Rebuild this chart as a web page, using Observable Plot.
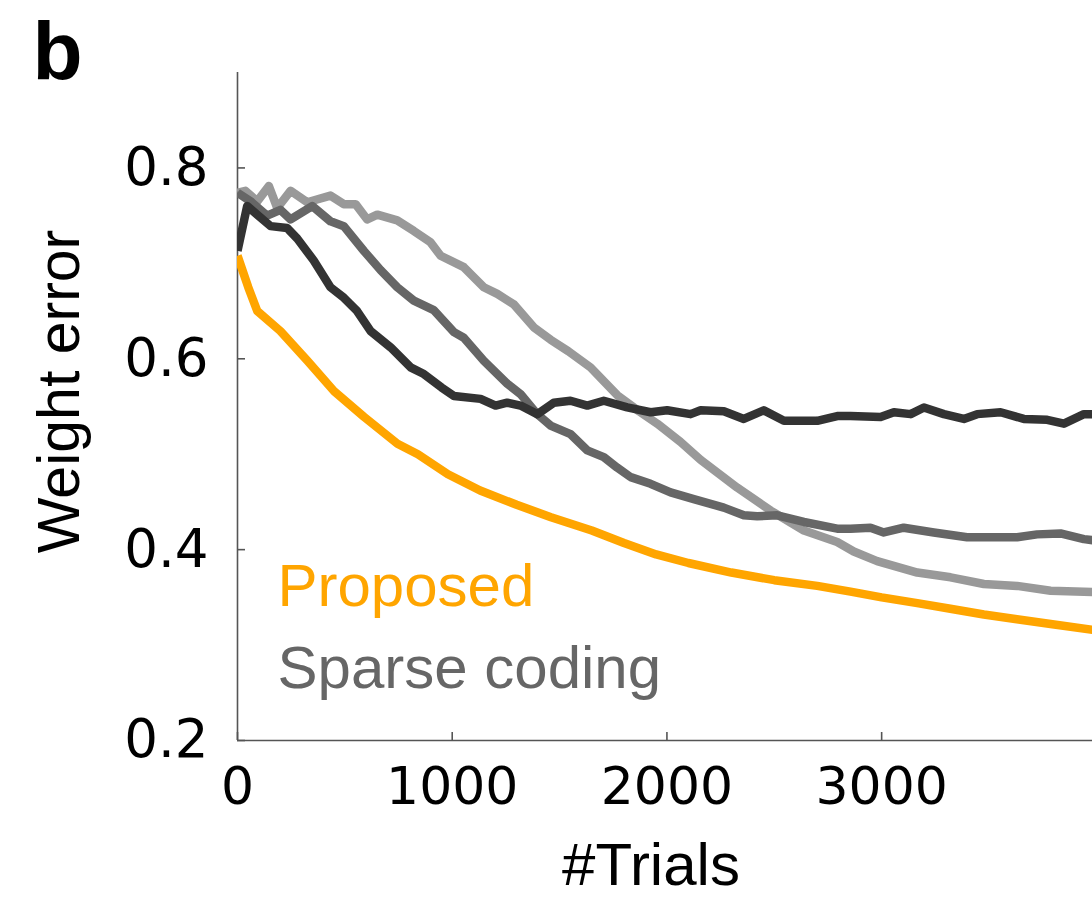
<!DOCTYPE html>
<html>
<head>
<meta charset="utf-8">
<script src="https://cdn.jsdelivr.net/npm/d3@7"></script>
<script src="https://cdn.jsdelivr.net/npm/@observablehq/plot@0.6"></script>
<style>
  html, body { margin: 0; padding: 0; background: #fff; overflow: hidden; }
  svg { display: block; }
</style>
</head>
<body>
<div id="chart"></div>
<script>
// ---- Data ----
const xTicks = [0, 1000, 2000, 3000];
const yTicks = [0.2, 0.4, 0.6, 0.8];

const proposedTrials = [0, 50, 92, 200, 325, 450, 590, 745, 840, 980, 1130, 1300, 1460, 1650, 1800, 1950, 2100, 2300, 2500, 2700, 2855, 3000, 3166, 3320, 3476, 3630, 3787, 3982, 4050];
const proposedError  = [0.708, 0.675, 0.650, 0.629, 0.598, 0.566, 0.539, 0.511, 0.500, 0.479, 0.462, 0.447, 0.434, 0.420, 0.407, 0.395, 0.386, 0.376, 0.368, 0.362, 0.356, 0.350, 0.344, 0.338, 0.332, 0.327, 0.322, 0.316, 0.314];

const darkTrials = [0, 45, 92, 154, 231, 278, 355, 433, 495, 557, 620, 713, 806, 868, 950, 1008, 1132, 1202, 1256, 1318, 1396, 1473, 1551, 1629, 1706, 1815, 1924, 2001, 2110, 2157, 2265, 2358, 2451, 2545, 2700, 2793, 2855, 2995, 3057, 3135, 3197, 3290, 3383, 3445, 3554, 3662, 3771, 3849, 3942, 4050];
const darkError  = [0.713, 0.760, 0.751, 0.739, 0.737, 0.726, 0.703, 0.675, 0.664, 0.650, 0.629, 0.612, 0.591, 0.584, 0.570, 0.561, 0.558, 0.551, 0.554, 0.551, 0.542, 0.554, 0.556, 0.551, 0.556, 0.549, 0.544, 0.546, 0.542, 0.546, 0.545, 0.537, 0.546, 0.535, 0.535, 0.540, 0.540, 0.539, 0.544, 0.542, 0.549, 0.542, 0.537, 0.542, 0.544, 0.537, 0.536, 0.532, 0.542, 0.542];

const mediumTrials = [0, 61, 138, 200, 247, 348, 433, 495, 589, 666, 744, 821, 914, 1008, 1054, 1147, 1256, 1318, 1396, 1458, 1551, 1629, 1706, 1768, 1831, 1924, 2017, 2125, 2265, 2358, 2420, 2514, 2638, 2793, 2855, 2948, 3010, 3103, 3243, 3398, 3631, 3724, 3833, 3942, 4050];
const mediumError  = [0.774, 0.765, 0.750, 0.756, 0.746, 0.760, 0.744, 0.739, 0.713, 0.693, 0.675, 0.661, 0.651, 0.628, 0.622, 0.598, 0.574, 0.563, 0.542, 0.530, 0.521, 0.504, 0.497, 0.486, 0.476, 0.469, 0.460, 0.453, 0.444, 0.436, 0.435, 0.436, 0.429, 0.422, 0.422, 0.423, 0.418, 0.423, 0.418, 0.413, 0.413, 0.416, 0.417, 0.411, 0.408];

const lightTrials = [0, 37, 92, 146, 185, 247, 325, 433, 495, 550, 604, 651, 744, 821, 899, 946, 1054, 1147, 1210, 1287, 1380, 1458, 1540, 1644, 1768, 1870, 1955, 2063, 2157, 2327, 2483, 2638, 2793, 2870, 2979, 3166, 3321, 3476, 3631, 3787, 3942, 4050];
const lightError  = [0.774, 0.776, 0.765, 0.781, 0.758, 0.776, 0.764, 0.771, 0.762, 0.762, 0.746, 0.751, 0.745, 0.734, 0.722, 0.708, 0.696, 0.675, 0.668, 0.657, 0.633, 0.620, 0.608, 0.591, 0.562, 0.545, 0.532, 0.513, 0.494, 0.465, 0.441, 0.420, 0.408, 0.398, 0.388, 0.376, 0.371, 0.364, 0.362, 0.357, 0.356, 0.355];

const legendLabels = ["Proposed", "Sparse coding"];

// ---- Styles ----
const orange = "#ffa500";
const dark = "#333333";
const medium = "#666666";
const light = "#999999";
const axisColor = "#555555";
const sansFont = "'Liberation Sans', Arial, sans-serif";
const tickFont = "'DejaVu Sans', sans-serif";

const toRows = (trials, values) => trials.map((t, i) => ({trial: t, error: values[i]}));

const lineOpts = {x: "trial", y: "error", strokeWidth: 8.5, strokeLinejoin: "round", strokeLinecap: "butt", clip: true};

const chart = Plot.plot({
  width: 1092,
  height: 900,
  marginLeft: 237,
  marginRight: 0,
  marginTop: 72,
  marginBottom: 160,
  x: {domain: [0, 3982]},
  y: {domain: [0.2, 0.9]},
  style: {background: "white", color: "black"},
  marks: [
    // axis lines
    Plot.ruleX([0], {stroke: axisColor, strokeWidth: 1.6}),
    Plot.ruleY([0.2], {stroke: axisColor, strokeWidth: 1.6}),
    // inward tick marks
    Plot.axisY({ticks: yTicks, tickSize: 8, dx: 8, fill: "none", stroke: axisColor, strokeWidth: 1.6, label: null}),
    Plot.axisX({ticks: xTicks, tickSize: 8, dy: -8, fill: "none", stroke: axisColor, strokeWidth: 1.6, label: null}),
    // tick labels
    Plot.axisY({ticks: yTicks, tickSize: 0, tickPadding: 29, tickFormat: d3.format(".1f"), fontSize: 53, fontFamily: tickFont, fill: "black", label: null}),
    Plot.axisX({ticks: xTicks, tickSize: 0, tickPadding: 27, tickFormat: d3.format("d"), fontSize: 52, fontFamily: tickFont, fill: "black", label: null}),
    // series
    Plot.line(toRows(lightTrials, lightError), {...lineOpts, stroke: light}),
    Plot.line(toRows(mediumTrials, mediumError), {...lineOpts, stroke: medium}),
    Plot.line(toRows(darkTrials, darkError), {...lineOpts, stroke: dark}),
    Plot.line(toRows(proposedTrials, proposedError), {...lineOpts, stroke: orange}),
    // legend labels
    Plot.text([legendLabels[0]], {frameAnchor: "top-left", dx: 40, dy: 533, lineAnchor: "bottom", textAnchor: "start", fill: orange, fontSize: 60, fontFamily: sansFont}),
    Plot.text([legendLabels[1]], {frameAnchor: "top-left", dx: 40, dy: 615, lineAnchor: "bottom", textAnchor: "start", fill: medium, fontSize: 60, fontFamily: sansFont}),
    // axis titles
    Plot.text(["Weight error"], {frameAnchor: "left", rotate: -90, dx: -159, dy: -15, lineAnchor: "bottom", textAnchor: "middle", fill: "black", fontSize: 59, fontFamily: sansFont}),
    Plot.text(["#Trials"], {frameAnchor: "bottom", dx: -14, dy: 144, lineAnchor: "bottom", textAnchor: "middle", fill: "black", fontSize: 60, fontFamily: sansFont}),
    // panel letter
    Plot.text(["b"], {frameAnchor: "top-left", dx: -205, dy: 6, lineAnchor: "bottom", textAnchor: "start", fill: "black", fontSize: 82, fontWeight: "bold", fontFamily: sansFont})
  ]
});

document.getElementById("chart").appendChild(chart);
</script>
</body>
</html>
